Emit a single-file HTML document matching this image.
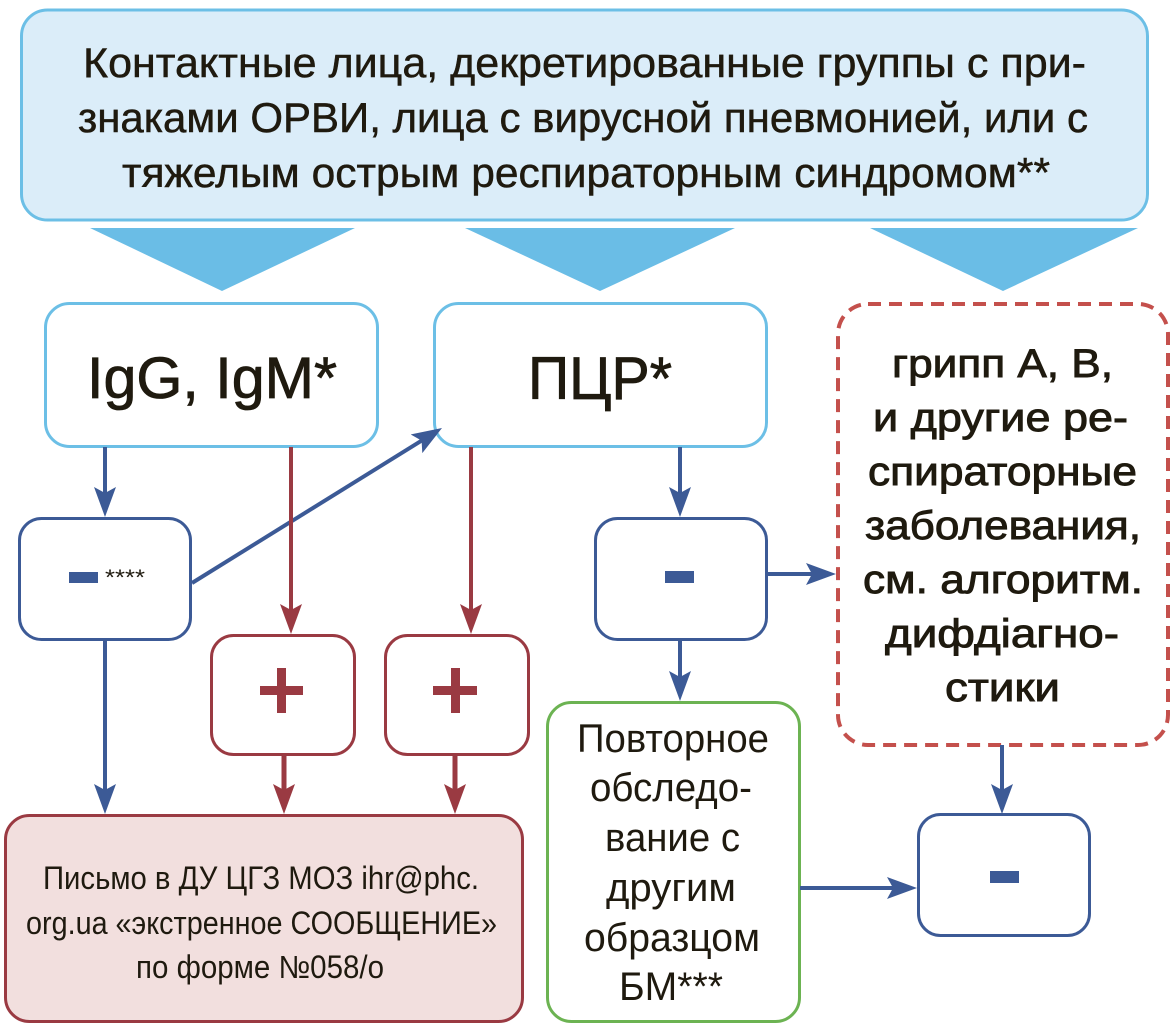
<!DOCTYPE html>
<html>
<head>
<meta charset="utf-8">
<style>
html,body{margin:0;padding:0;background:#fff;}
svg{display:block;}
text{font-family:"Liberation Sans","Noto Sans CJK SC",sans-serif;fill:#1f1a0f;}
</style>
</head>
<body>
<svg width="1172" height="1026" viewBox="0 0 1172 1026" xmlns="http://www.w3.org/2000/svg">
<defs>
  <marker id="ab" markerUnits="userSpaceOnUse" markerWidth="30" markerHeight="22" refX="22" refY="11" orient="auto">
    <path d="M0,0 L30,11 L0,22 L6,11 z" fill="#3c5a96"/>
  </marker>
  <marker id="ar" markerUnits="userSpaceOnUse" markerWidth="30" markerHeight="22" refX="22" refY="11" orient="auto">
    <path d="M0,0 L30,11 L0,22 L6,11 z" fill="#9a3a42"/>
  </marker>
</defs>

<!-- Top box -->
<rect x="21.5" y="10" width="1126" height="210" rx="26" fill="#dbedf9" stroke="#6cbfe6" stroke-width="3"/>
<g font-size="42" text-anchor="start" stroke="#1f1a0f" stroke-width="0.5">
  <text x="83" y="77" textLength="1003" lengthAdjust="spacingAndGlyphs">Контактные лица, декретированные группы с при-</text>
  <text x="78" y="132" textLength="1010" lengthAdjust="spacingAndGlyphs">знаками ОРВИ, лица с вирусной пневмонией, или с</text>
  <text x="122" y="187" textLength="928" lengthAdjust="spacingAndGlyphs">тяжелым острым респираторным синдромом**</text>
</g>

<!-- Triangles -->
<polygon points="90,228 355,228 222,291" fill="#6abde6"/>
<polygon points="465,228 735,228 600,291" fill="#6abde6"/>
<polygon points="870,228 1138,228 1003,291" fill="#6abde6"/>

<!-- IgG box -->
<rect x="45.5" y="303.5" width="332" height="143" rx="24" fill="#fff" stroke="#6cbfe6" stroke-width="3"/>
<text x="87" y="398" font-size="58" textLength="250" lengthAdjust="spacingAndGlyphs" stroke="#1f1a0f" stroke-width="0.8">IgG, IgM*</text>

<!-- PCR box -->
<rect x="434.5" y="303.5" width="332" height="143" rx="24" fill="#fff" stroke="#6cbfe6" stroke-width="3"/>
<text x="528" y="399" font-size="60" textLength="144" lengthAdjust="spacingAndGlyphs" stroke="#1f1a0f" stroke-width="0.8">ПЦР*</text>

<!-- Dashed box -->
<rect x="838" y="304" width="330" height="441" rx="30" fill="#fff" stroke="#c4504c" stroke-width="4" stroke-dasharray="13 8"/>
<g font-size="40" stroke="#1f1a0f" stroke-width="0.9">
  <text x="892" y="377" textLength="221" lengthAdjust="spacingAndGlyphs">грипп А, В,</text>
  <text x="873" y="431" textLength="255" lengthAdjust="spacingAndGlyphs">и другие ре-</text>
  <text x="868" y="485" textLength="269" lengthAdjust="spacingAndGlyphs">спираторные</text>
  <text x="865" y="539" textLength="276" lengthAdjust="spacingAndGlyphs">заболевания,</text>
  <text x="863" y="593" textLength="280" lengthAdjust="spacingAndGlyphs">см. алгоритм.</text>
  <text x="885" y="647" textLength="234" lengthAdjust="spacingAndGlyphs">дифдіагно-</text>
  <text x="945" y="701" textLength="115" lengthAdjust="spacingAndGlyphs">стики</text>
</g>

<!-- Left minus box -->
<rect x="19.5" y="518.5" width="171" height="121" rx="22" fill="#fff" stroke="#3c5a96" stroke-width="3"/>
<rect x="69" y="572" width="29" height="11" fill="#3c5a96"/>
<text x="105" y="585" font-size="22" textLength="40" lengthAdjust="spacingAndGlyphs">****</text>

<!-- PCR minus box -->
<rect x="595.5" y="518.5" width="171" height="121" rx="22" fill="#fff" stroke="#3c5a96" stroke-width="3"/>
<rect x="665" y="571" width="29" height="12" fill="#3c5a96"/>

<!-- Plus boxes -->
<rect x="211.5" y="635.5" width="143" height="119" rx="22" fill="#fff" stroke="#9a3a42" stroke-width="3"/>
<rect x="260" y="686" width="43" height="9" fill="#9a3a42"/>
<rect x="277" y="668" width="9" height="45" fill="#9a3a42"/>
<rect x="385.5" y="635.5" width="143" height="119" rx="22" fill="#fff" stroke="#9a3a42" stroke-width="3"/>
<rect x="433" y="686" width="44" height="9" fill="#9a3a42"/>
<rect x="451" y="668" width="9" height="45" fill="#9a3a42"/>

<!-- Green box -->
<rect x="547.5" y="702.5" width="252" height="319" rx="24" fill="#fff" stroke="#6cb352" stroke-width="3"/>
<g font-size="40">
  <text x="577" y="752" textLength="192" lengthAdjust="spacingAndGlyphs">Повторное</text>
  <text x="590" y="801" textLength="162" lengthAdjust="spacingAndGlyphs">обследо-</text>
  <text x="605" y="851" textLength="135" lengthAdjust="spacingAndGlyphs">вание с</text>
  <text x="606" y="901" textLength="130" lengthAdjust="spacingAndGlyphs">другим</text>
  <text x="584" y="951" textLength="176" lengthAdjust="spacingAndGlyphs">образцом</text>
  <text x="619" y="1000" textLength="104" lengthAdjust="spacingAndGlyphs">БМ***</text>
</g>

<!-- Bottom right minus box -->
<rect x="918.5" y="814.5" width="171" height="121" rx="22" fill="#fff" stroke="#3c5a96" stroke-width="3"/>
<rect x="990" y="871" width="29" height="12" fill="#3c5a96"/>

<!-- Bottom red box -->
<rect x="5.5" y="815.5" width="517" height="206" rx="24" fill="#f2dfde" stroke="#9a3a42" stroke-width="3"/>
<g font-size="32">
  <text x="43" y="889" textLength="436" lengthAdjust="spacingAndGlyphs">Письмо в ДУ ЦГЗ МОЗ ihr@phc.</text>
  <text x="26" y="934" textLength="471" lengthAdjust="spacingAndGlyphs">org.ua «экстренное СООБЩЕНИЕ»</text>
  <text x="136" y="978" textLength="248" lengthAdjust="spacingAndGlyphs">по форме №058/о</text>
</g>

<!-- Blue connectors -->
<g stroke="#3c5a96" stroke-width="4" fill="none">
  <line x1="105" y1="447" x2="105" y2="509" marker-end="url(#ab)"/>
  <line x1="105" y1="640" x2="105" y2="806" marker-end="url(#ab)"/>
  <line x1="192" y1="583" x2="435.2" y2="432.2" marker-end="url(#ab)"/>
  <line x1="680" y1="447" x2="680" y2="509" marker-end="url(#ab)"/>
  <line x1="680" y1="640" x2="680" y2="693" marker-end="url(#ab)"/>
  <line x1="766" y1="574" x2="828" y2="574" marker-end="url(#ab)"/>
  <line x1="1002" y1="745" x2="1002" y2="806" marker-end="url(#ab)"/>
  <line x1="800" y1="888" x2="909" y2="888" marker-end="url(#ab)"/>
</g>

<!-- Red connectors -->
<g stroke="#9a3a42" stroke-width="4" fill="none">
  <line x1="291" y1="447" x2="291" y2="626" marker-end="url(#ar)"/>
  <line x1="471" y1="447" x2="471" y2="626" marker-end="url(#ar)"/>
  <line x1="284" y1="755" x2="284" y2="806" stroke-width="5" marker-end="url(#ar)"/>
  <line x1="455" y1="755" x2="455" y2="806" stroke-width="5" marker-end="url(#ar)"/>
</g>
</svg>
</body>
</html>
